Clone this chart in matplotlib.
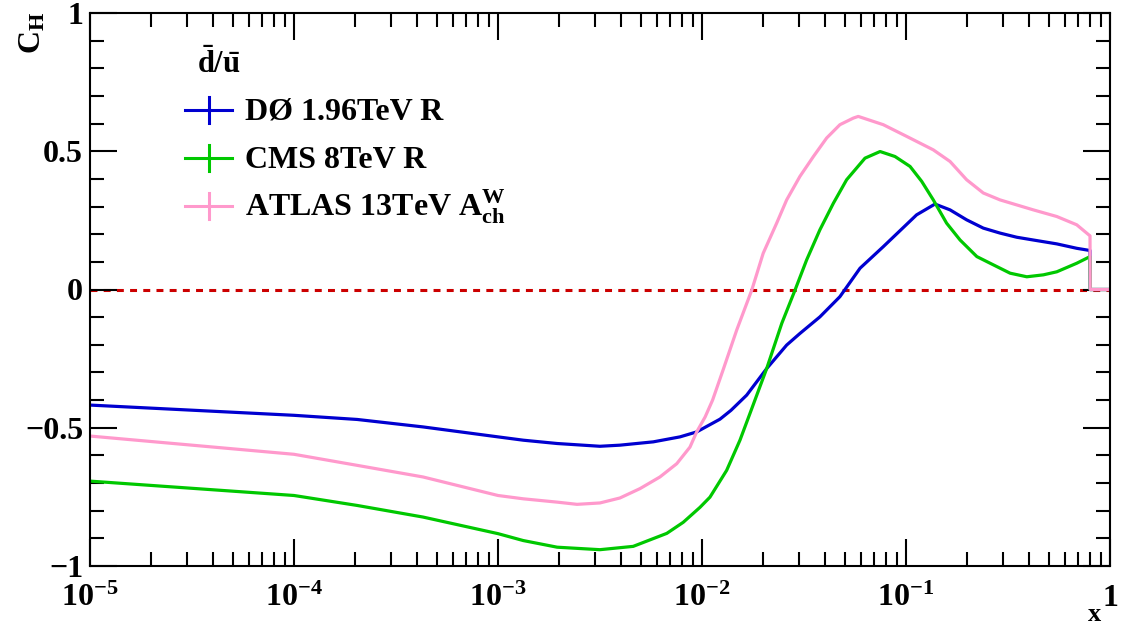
import matplotlib
matplotlib.use("Agg")
import matplotlib.pyplot as plt
from matplotlib.lines import Line2D
from matplotlib.ticker import MultipleLocator, LogLocator, FixedLocator, FixedFormatter, NullFormatter

plt.rcParams['font.family'] = 'Liberation Serif'
plt.rcParams['font.weight'] = 'bold'
plt.rcParams['mathtext.fontset'] = 'custom'
plt.rcParams['mathtext.rm'] = 'Liberation Serif:bold'
plt.rcParams['mathtext.it'] = 'Liberation Serif:bold'
plt.rcParams['mathtext.bf'] = 'Liberation Serif:bold'
plt.rcParams['lines.scale_dashes'] = False

# ---- data ----
d0_x = [1e-5, 1e-4, 2.04e-4, 4.29e-4, 1e-3, 1.33e-3, 1.95e-3, 3.16e-3, 3.96e-3, 5.77e-3,
        7.80e-3, 9.42e-3, 0.01225, 0.01387, 0.01656, 0.02075, 0.0260, 0.0302, 0.03784,
        0.04742, 0.05953, 0.0774, 0.1127, 0.1387, 0.1644, 0.1982, 0.2393, 0.2891,
        0.3491, 0.4207, 0.5483, 0.6871, 0.798, 0.80, 1.0]
d0_y = [-0.418, -0.455, -0.470, -0.497, -0.533, -0.545, -0.557, -0.567, -0.563, -0.551,
        -0.533, -0.515, -0.469, -0.437, -0.382, -0.286, -0.201, -0.159, -0.099,
        -0.026, 0.077, 0.155, 0.27, 0.309, 0.288, 0.252, 0.222, 0.204,
        0.189, 0.179, 0.165, 0.149, 0.141, 0.0, 0.0]

cms_x = [1e-5, 1e-4, 2.04e-4, 4.29e-4, 1e-3, 1.33e-3, 1.95e-3, 3.16e-3, 4.60e-3, 6.72e-3,
         8.09e-3, 9.77e-3, 0.01094, 0.01321, 0.01535, 0.01717, 0.02075, 0.02462, 0.02858,
         0.03258, 0.03784, 0.04406, 0.05117, 0.06295, 0.07464, 0.08831, 0.1047, 0.1194,
         0.1361, 0.1581, 0.1841, 0.2225, 0.2584, 0.3238, 0.391, 0.4714, 0.5483, 0.6871,
         0.798, 0.80, 1.0]
cms_y = [-0.693, -0.745, -0.781, -0.823, -0.883, -0.908, -0.932, -0.941, -0.929, -0.882,
         -0.842, -0.788, -0.751, -0.654, -0.545, -0.449, -0.286, -0.122, -0.002,
         0.107, 0.216, 0.312, 0.397, 0.475, 0.499, 0.481, 0.445, 0.391,
         0.324, 0.240, 0.179, 0.119, 0.095, 0.059, 0.046, 0.053, 0.064, 0.095,
         0.119, 0.0, 0.0]

atlas_x = [1e-5, 1e-4, 2.04e-4, 4.29e-4, 1e-3, 1.33e-3, 1.95e-3, 2.44e-3, 3.16e-3, 3.96e-3,
           4.97e-3, 6.22e-3, 7.52e-3, 8.73e-3, 9.42e-3, 0.01036, 0.01127, 0.0127, 0.01479,
           0.01754, 0.01995, 0.02323, 0.0260, 0.0302, 0.03517, 0.04085, 0.04742, 0.05521,
           0.05834, 0.0774, 0.1006, 0.1361, 0.1644, 0.1982, 0.2393, 0.2891, 0.4207,
           0.5483, 0.6871, 0.798, 0.80, 1.0]
atlas_y = [-0.53, -0.596, -0.636, -0.678, -0.745, -0.757, -0.769, -0.777, -0.772, -0.754,
           -0.720, -0.678, -0.630, -0.570, -0.515, -0.461, -0.400, -0.290, -0.147,
           -0.002, 0.131, 0.240, 0.324, 0.409, 0.481, 0.548, 0.596, 0.620,
           0.626, 0.596, 0.554, 0.505, 0.463, 0.397, 0.349, 0.324, 0.288,
           0.264, 0.234, 0.194, 0.0, 0.0]

labels = ['DØ 1.96TeV R', 'CMS 8TeV R', r'ATLAS 13TeV $\mathrm{A_{ch}^{W}}$']
header = r'$\mathrm{\bar{d}/\bar{u}}$'
colors = ['#0000d0', '#00c800', '#ff99cc']

xtick_vals = [1e-5, 1e-4, 1e-3, 1e-2, 1e-1, 1]
xtick_labels = [r'$10^{-5}$', r'$10^{-4}$', r'$10^{-3}$', r'$10^{-2}$', r'$10^{-1}$', r'$\mathrm{1}$']
ytick_vals = [-1, -0.5, 0, 0.5, 1]
ytick_labels = ['\u22121', '\u22120.5', '0', '0.5', '1']

W, H = 1135, 629


def px(x):
    return x / W


def py(y):
    return 1 - y / H


fig = plt.figure(figsize=(W / 100, H / 100), dpi=100)
ax = fig.add_axes([px(90), py(566), px(1110) - px(90), py(13) - py(566)])

series = [(d0_x, d0_y), (cms_x, cms_y), (atlas_x, atlas_y)]
ax.axhline(0, color='#cc0000', lw=2.2, ls=(0, (5, 4.5)), zorder=1)
for (xs, ys), c in zip(series, colors):
    ax.plot(xs, ys, color=c, lw=2.3, zorder=2, solid_joinstyle='round')

ax.set_xscale('log')
ax.set_xlim(1e-5, 1)
ax.set_ylim(-1, 1)

ax.xaxis.set_major_locator(FixedLocator(xtick_vals))
ax.xaxis.set_major_formatter(FixedFormatter(xtick_labels))
ax.xaxis.set_minor_locator(LogLocator(base=10, subs=range(2, 10), numticks=20))
ax.xaxis.set_minor_formatter(NullFormatter())
ax.yaxis.set_major_locator(FixedLocator(ytick_vals))
ax.yaxis.set_major_formatter(FixedFormatter(ytick_labels))
ax.yaxis.set_minor_locator(MultipleLocator(0.1))

for sp in ax.spines.values():
    sp.set_linewidth(1.5)
ax.tick_params(which='both', direction='in', top=True, right=True, width=1.5)
ax.tick_params(which='major', length=19.5)
ax.tick_params(which='minor', length=10)
ax.tick_params(axis='y', labelsize=23, pad=5)
ax.tick_params(axis='x', labelsize=23, pad=29)
for lbl in ax.get_xticklabels():
    lbl.set_va('baseline')

# axis titles
fig.text(px(33), py(33), r'$\mathrm{C_{H}}$', rotation=90, ha='center', va='center', fontsize=23)
fig.text(px(1102), py(621), r'$\mathrm{x}$', ha='right', va='baseline', fontsize=19)

# legend drawn by hand, ROOT style
fig.text(px(197), py(73), header, ha='left', va='baseline', fontsize=22)
for i, (lab, c) in enumerate(zip(labels, colors)):
    yc = 110 + 48 * i
    fig.add_artist(Line2D([px(185), px(232)], [py(yc), py(yc)], color=c, lw=2.2))
    fig.add_artist(Line2D([px(208.5), px(208.5)], [py(yc - 13), py(yc + 13)], color=c, lw=2.2))
    fig.text(px(245), py(yc + 10), lab, ha='left', va='baseline', fontsize=23)

fig.savefig('out.png', dpi=100)
